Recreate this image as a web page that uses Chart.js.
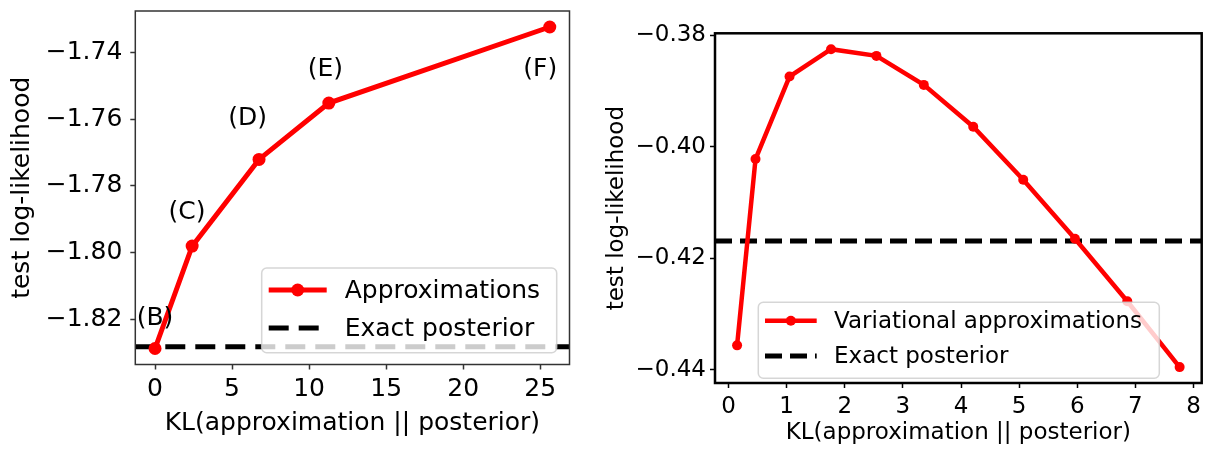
<!DOCTYPE html>
<html>
<head>
<meta charset="utf-8">
<script src="https://cdn.jsdelivr.net/npm/chart.js@4/dist/chart.umd.min.js"></script>
<style>
  body { margin: 0; background: #fff; }
  #left { position: absolute; left: 0; top: 0; }
  #right { position: absolute; left: 600px; top: 0; }
</style>
</head>
<body>
<canvas id="left" width="600" height="449"></canvas>
<canvas id="right" width="614" height="449"></canvas>
<script>
// left panel: named approximations (B)..(F)
const leftKL = [0.0, 2.41, 6.75, 11.28, 25.62];
const leftLL = [-1.8288, -1.7981, -1.7721, -1.7552, -1.7324];
const leftExact = -1.8283;
const leftLabels = ["(B)", "(C)", "(D)", "(E)", "(F)"];
const leftLabelKL = [0.0, 2.07, 6.01, 11.05, 25.0];
const leftLabelLL = [-1.8197, -1.7879, -1.7597, -1.745, -1.745];
const leftXTicks = [0, 5, 10, 15, 20, 25];
const leftYTicks = [-1.82, -1.80, -1.78, -1.76, -1.74];

// right panel: variational approximations
const rightKL = [0.148, 0.465, 1.05, 1.764, 2.545, 3.36, 4.21, 5.07, 5.96, 6.86, 7.76];
const rightLL = [-0.4356, -0.4022, -0.3874, -0.3825, -0.3837, -0.3889, -0.3964, -0.4059, -0.4165, -0.4277, -0.4395];
const rightExact = -0.4169;
const rightXTicks = [0, 1, 2, 3, 4, 5, 6, 7, 8];
const rightYTicks = [-0.44, -0.42, -0.40, -0.38];

const FONT = "DejaVu Sans";
const fmt2 = v => (v < 0 ? "\u2212" : "") + Math.abs(v).toFixed(2);

// frame round the plot area + point labels
const framePlugin = {
  id: "frame",
  afterDatasetsDraw(chart, args, opts) {
    const ctx = chart.ctx, a = chart.chartArea;
    ctx.save();
    if (opts.labels) {
      ctx.fillStyle = "#000";
      ctx.font = opts.fontSize + "px '" + FONT + "'";
      ctx.textAlign = "center";
      ctx.textBaseline = "middle";
      opts.labels.forEach((t, i) => {
        ctx.fillText(t, chart.scales.x.getPixelForValue(opts.lx[i]), chart.scales.y.getPixelForValue(opts.ly[i]));
      });
    }
    ctx.strokeStyle = opts.color;
    ctx.lineWidth = opts.width;
    ctx.strokeRect(a.left, a.top, a.right - a.left, a.bottom - a.top);
    ctx.restore();
  }
};

// matplotlib-like legend drawn over the data
const boxLegend = {
  id: "boxLegend",
  afterDraw(chart, args, o) {
    const ctx = chart.ctx;
    ctx.save();
    ctx.beginPath();
    ctx.roundRect(o.x, o.y, o.w, o.h, 5);
    ctx.fillStyle = "rgba(255,255,255,0.8)";
    ctx.fill();
    ctx.strokeStyle = "rgba(204,204,204,0.8)";
    ctx.lineWidth = 1.5;
    ctx.stroke();
    ctx.font = o.fontSize + "px '" + FONT + "'";
    ctx.textBaseline = "middle";
    ctx.textAlign = "left";
    chart.data.datasets.forEach((ds, i) => {
      const y = o.y + o.rows[i];
      ctx.strokeStyle = ds.borderColor;
      ctx.lineWidth = ds.borderWidth;
      ctx.setLineDash(ds.borderDash || []);
      ctx.beginPath();
      ctx.moveTo(o.x + o.lineX[0], y);
      ctx.lineTo(o.x + o.lineX[1], y);
      ctx.stroke();
      ctx.setLineDash([]);
      if (ds.pointRadius > 0) {
        ctx.fillStyle = ds.pointBackgroundColor;
        ctx.beginPath();
        ctx.arc(o.x + (o.lineX[0] + o.lineX[1]) / 2, y, ds.pointRadius, 0, Math.PI * 2);
        ctx.fill();
      }
      ctx.fillStyle = "#000";
      ctx.fillText(ds.label, o.x + o.textX, y + 1);
    });
    ctx.restore();
  }
};

function noPad(s) {
  s.paddingTop = 0; s.paddingBottom = 0; s.paddingLeft = 0; s.paddingRight = 0;
}

function makeChart(id, cfg) {
  const tickFont = { family: FONT, size: cfg.fontSize };
  return new Chart(document.getElementById(id), {
    type: "line",
    data: {
      datasets: [
        {
          label: cfg.name,
          data: cfg.xs.map((x, i) => ({ x: x, y: cfg.ys[i] })),
          borderColor: "#ff0000",
          backgroundColor: "#ff0000",
          pointBackgroundColor: "#ff0000",
          borderWidth: cfg.lw,
          pointRadius: cfg.ms,
          pointBorderWidth: 0,
          tension: 0
        },
        {
          label: "Exact posterior",
          data: [{ x: cfg.xMin, y: cfg.exact }, { x: cfg.xMax, y: cfg.exact }],
          borderColor: "#000",
          borderWidth: cfg.dashW,
          borderDash: cfg.dash,
          pointRadius: 0
        }
      ]
    },
    options: {
      responsive: false,
      animation: false,
      devicePixelRatio: 1,
      layout: { padding: cfg.pad },
      plugins: {
        legend: { display: false },
        tooltip: { enabled: false },
        frame: cfg.frame,
        boxLegend: cfg.legend
      },
      scales: {
        x: {
          type: "linear",
          min: cfg.xMin,
          max: cfg.xMax,
          afterBuildTicks: s => { s.ticks = cfg.xTicks.map(v => ({ value: v })); },
          afterFit: s => { s.height = cfg.xH; noPad(s); },
          grid: { drawOnChartArea: false, drawTicks: true, tickLength: 5, tickWidth: 1.5, tickColor: cfg.frame.color },
          border: { display: false },
          ticks: { font: tickFont, color: "#000", padding: 5, maxRotation: 0, callback: v => String(v) },
          title: { display: true, text: "KL(approximation || posterior)", font: tickFont, color: "#000", padding: { top: 0, bottom: cfg.xTitlePad } }
        },
        y: {
          type: "linear",
          min: cfg.yMin,
          max: cfg.yMax,
          afterBuildTicks: s => { s.ticks = cfg.yTicks.map(v => ({ value: v })); },
          afterFit: s => { s.width = cfg.yW; noPad(s); },
          grid: { drawOnChartArea: false, drawTicks: true, tickLength: 5, tickWidth: 1.5, tickColor: cfg.frame.color },
          border: { display: false },
          ticks: { font: tickFont, color: "#000", padding: cfg.yTickPad, callback: v => fmt2(v) },
          title: { display: true, text: "test log-likelihood", font: tickFont, color: "#000", padding: { top: cfg.yTitlePad, bottom: 0 } }
        }
      }
    },
    plugins: [framePlugin, boxLegend]
  });
}

makeChart("left", {
  name: "Approximations",
  xs: leftKL, ys: leftLL, exact: leftExact,
  xTicks: leftXTicks, yTicks: leftYTicks,
  xMin: -1.28, xMax: 26.9, yMin: -1.8336, yMax: -1.7276,
  fontSize: 25, lw: 5, ms: 6.5, dashW: 5, dash: [20, 10],
  pad: { left: 0, top: 11, right: 30.5, bottom: 0 },
  xH: 84.5, yW: 135.3, xTitlePad: 11, yTitlePad: 7, yTickPad: 8,
  frame: { color: "#333", width: 1.5, labels: leftLabels, lx: leftLabelKL, ly: leftLabelLL, fontSize: 25 },
  legend: { x: 261.7, y: 268, w: 295, h: 84.7, rows: [22, 60], lineX: [7, 65], textX: 83, fontSize: 25 }
});

makeChart("right", {
  name: "Variational approximations",
  xs: rightKL, ys: rightLL, exact: rightExact,
  xTicks: rightXTicks, yTicks: rightYTicks,
  xMin: -0.232, xMax: 8.14, yMin: -0.44235, yMax: -0.37965,
  fontSize: 23, lw: 4.5, ms: 5, dashW: 5, dash: [17, 8],
  pad: { left: 0, top: 33.3, right: 12.3, bottom: 0 },
  xH: 66, yW: 115, xTitlePad: 2.5, yTitlePad: 3, yTickPad: 4,
  frame: { color: "#000", width: 2.5 },
  legend: { x: 158.3, y: 302.3, w: 401, h: 76, rows: [18.4, 53.7], lineX: [6.7, 58.4], textX: 75.7, fontSize: 23 }
});
</script>
</body>
</html>
